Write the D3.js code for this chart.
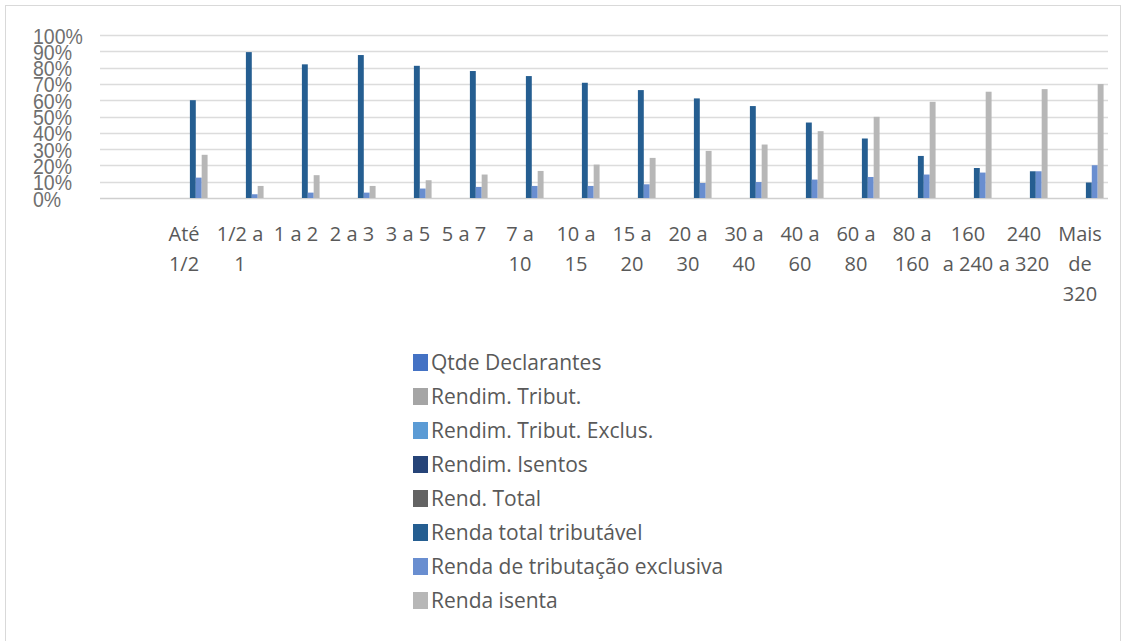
<!DOCTYPE html>
<html>
<head>
<meta charset="utf-8">
<script src="https://cdn.jsdelivr.net/npm/d3@7"></script>
<style>
  html, body { margin: 0; padding: 0; background: #fff; }
  svg { display: block; }
</style>
</head>
<body>
<svg id="chart" width="1126" height="641"></svg>
<script>
// Faixas de renda (salários mínimos); a primeira faixa do eixo fica vazia
const categories = ["", "Até 1/2", "1/2 a 1", "1 a 2", "2 a 3", "3 a 5", "5 a 7", "7 a 10",
  "10 a 15", "15 a 20", "20 a 30", "30 a 40", "40 a 60", "60 a 80", "80 a 160",
  "160 a 240", "240 a 320", "Mais de 320"];

// Quebras de linha dos rótulos do eixo X
const tickLines = [[""], ["Até", "1/2"], ["1/2 a", "1"], ["1 a 2"], ["2 a 3"], ["3 a 5"],
  ["5 a 7"], ["7 a", "10"], ["10 a", "15"], ["15 a", "20"], ["20 a", "30"], ["30 a", "40"],
  ["40 a", "60"], ["60 a", "80"], ["80 a", "160"], ["160", "a 240"], ["240", "a 320"],
  ["Mais", "de", "320"]];

const yTicks = [0, 10, 20, 30, 40, 50, 60, 70, 80, 90, 100];

const seriesNames = ["Qtde Declarantes", "Rendim. Tribut.", "Rendim. Tribut. Exclus.",
  "Rendim. Isentos", "Rend. Total", "Renda total tributável",
  "Renda de tributação exclusiva", "Renda isenta"];

// Participação (%) por faixa; séries sem valores não aparecem no gráfico
const qtdeDeclarantes = [];
const rendimTribut = [];
const rendimTributExclus = [];
const rendimIsentos = [];
const rendTotal = [];
const rendaTotalTributavel = [null, 60, 89.5, 82, 87.7, 81.1, 77.9, 74.8, 70.7, 66.2, 61.1,
  56.4, 46.3, 36.5, 25.8, 18.4, 16.4, 9.5];
const rendaTributacaoExclusiva = [null, 12.5, 2.3, 3.3, 3.3, 5.8, 6.8, 7.4, 7.4, 8.4, 9.2,
  9.8, 11.3, 12.9, 14.4, 15.6, 16.4, 20.1];
const rendaIsenta = [null, 26.5, 7.4, 14, 7.4, 10.9, 14.4, 16.6, 20.5, 24.6, 28.9,
  32.8, 41, 49.8, 59, 65.2, 66.8, 69.9];

const seriesValues = [qtdeDeclarantes, rendimTribut, rendimTributExclus, rendimIsentos,
  rendTotal, rendaTotalTributavel, rendaTributacaoExclusiva, rendaIsenta];

const colors = ["#4472C4", "#A5A5A5", "#5B9BD5", "#264478", "#636363",
  "#255E91", "#698ED0", "#B7B7B7"];

const svg = d3.select("#chart");

// moldura do gráfico
svg.append("rect")
  .attr("x", 5.5).attr("y", 5.5)
  .attr("width", 1115).attr("height", 645)
  .attr("fill", "none").attr("stroke", "#d9d9d9");

const plot = { left: 100, right: 1108, top: 35, bottom: 198 };

const x0 = d3.scaleBand()
  .domain(d3.range(categories.length))
  .range([plot.left, plot.right])
  .paddingInner(0).paddingOuter(0);

const x1 = d3.scaleBand()
  .domain(d3.range(seriesNames.length))
  .range([0, x0.bandwidth()])
  .paddingInner(0).paddingOuter(0.75);

const y = d3.scaleLinear().domain([0, 100]).range([plot.bottom, plot.top]);

// linhas de grade
const yAxis = d3.axisLeft(y).tickValues(yTicks).tickSize(0).tickFormat(d => d + "%");
const gy = svg.append("g").attr("class", "y-grid");
gy.selectAll("line").data(yTicks).join("line")
  .attr("x1", plot.left).attr("x2", plot.right)
  .attr("y1", d => Math.round(y(d)) + 0.5).attr("y2", d => Math.round(y(d)) + 0.5)
  .attr("stroke", d => d === 0 ? "#cfcfcf" : "#dcdcdc")
  .attr("stroke-width", 1.3);

// rótulos do eixo Y (alinhados à esquerda, altos e sobrepostos)
const gAxisY = svg.append("g").attr("transform", `translate(${plot.left},0)`).call(yAxis);
gAxisY.select(".domain").remove();
gAxisY.selectAll(".tick text")
  .attr("x", 0)
  .attr("dy", 0)
  .attr("text-anchor", "start")
  .attr("transform", `translate(${33 - plot.left},8) scale(1,1.12)`)
  .attr("fill", "#6f6f6f")
  .style("font-family", "'Liberation Sans', Arial, sans-serif")
  .style("font-size", "19.5px");

// barras
const groups = svg.append("g").selectAll("g")
  .data(seriesValues)
  .join("g")
  .attr("fill", (d, i) => colors[i]);

groups.each(function (vals, si) {
  const data = vals.map((v, ci) => ({ v, ci })).filter(d => d.v != null && d.v > 0);
  d3.select(this).selectAll("rect").data(data).join("rect")
    .attr("x", d => x0(d.ci) + x1(si))
    .attr("width", x1.bandwidth())
    .attr("y", d => y(d.v))
    .attr("height", d => y(0) - y(d.v));
});

// rótulos do eixo X
const xAxis = d3.axisBottom(x0).tickSize(0).tickFormat(() => "");
const gx = svg.append("g").attr("transform", `translate(0,${plot.bottom})`).call(xAxis);
gx.select(".domain").remove();
gx.selectAll(".tick").each(function (ci) {
  const t = d3.select(this).append("text")
    .attr("text-anchor", "middle")
    .attr("fill", "#595959")
    .style("font-family", "'Open Sans', sans-serif")
    .style("font-size", "20px");
  tickLines[ci].forEach((line, li) => {
    t.append("tspan").attr("x", 0).attr("y", 43 + li * 30).text(line);
  });
});

// legenda
const legend = svg.append("g").attr("transform", "translate(413,363)");
const items = legend.selectAll("g").data(seriesNames).join("g")
  .attr("transform", (d, i) => `translate(0,${i * 34})`);
items.append("rect")
  .attr("x", 0).attr("y", -9).attr("width", 15).attr("height", 17)
  .attr("fill", (d, i) => colors[i]);
items.append("text")
  .attr("x", 18).attr("y", 7)
  .attr("fill", "#595959")
  .style("font-family", "'Open Sans', sans-serif")
  .style("font-size", "21px")
  .text(d => d);
</script>
</body>
</html>
